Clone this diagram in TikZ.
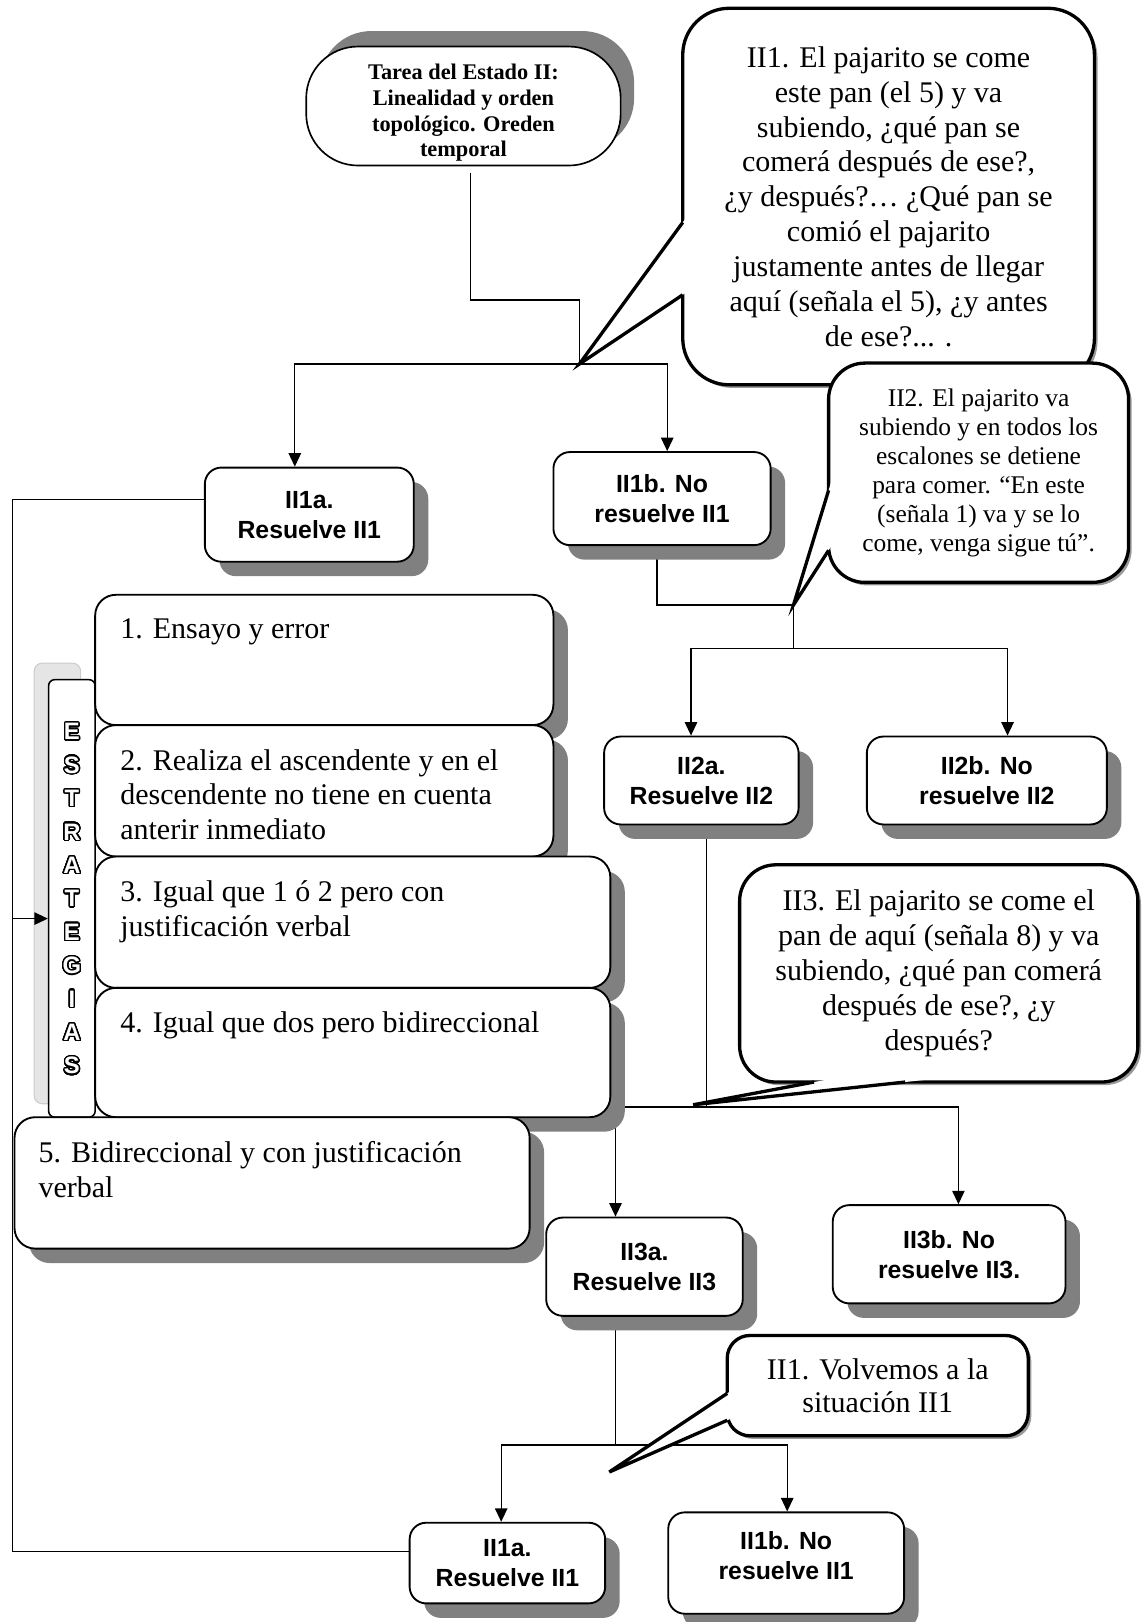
\documentclass[tikz,border=0pt]{standalone}
\usepackage{fontspec}
\setmainfont{Liberation Serif}
\setsansfont{Liberation Sans}
\usepackage{xcolor}
\usepackage{contour}
\contourlength{1.3pt}
\contournumber{32}
\usepackage{tikz}
\usetikzlibrary{positioning,calc,shadows,arrows.meta}
\pgfdeclarelayer{bg}
\pgfsetlayers{bg,main}
\newcommand{\olet}[1]{\contour{black}{\textcolor{white}{#1}}}

\begin{document}
\begin{tikzpicture}[x=1pt, y=-1pt, >={Triangle[length=13pt,width=12pt]},
  link/.style={line width=1.3pt},
  tail/.style={line width=3.2pt, line join=miter},
  res/.style={draw, line width=1.8pt, fill=white, rounded corners=16pt, align=center, inner sep=0pt,
    font=\sffamily\bfseries\fontsize{24}{29}\selectfont,
    drop shadow={shadow xshift=14pt, shadow yshift=-14pt, fill=black!50, opacity=1}},
  est/.style={draw, line width=1.8pt, fill=white, rounded corners=20pt,
    drop shadow={shadow xshift=14pt, shadow yshift=-14pt, fill=black!50, opacity=1}},
  etxt/.style={inner sep=0pt, align=left, font=\fontsize{29}{33.6}\selectfont},
  bubble/.style={draw, line width=3.2pt, fill=white, align=center, inner sep=0pt,
    drop shadow={shadow xshift=3pt, shadow yshift=-3pt, fill=black!40, opacity=1}},
  titlebox/.style={draw, line width=1.6pt, fill=white, rounded corners=50pt,
    drop shadow={shadow xshift=13pt, shadow yshift=15pt, fill=black!50, opacity=1}}]
\useasboundingbox (0,0) rectangle (1104,1568);

\coordinate (k1) at (560,290);
\coordinate (j1) at (560,352);
\coordinate (j2) at (767,585);
\coordinate (k2) at (767,627);
\coordinate (j3) at (683,1070);
\coordinate (p3) at (670,1068);
\coordinate (j4) at (595,1397);
\coordinate (p4) at (589,1423);
\coordinate (ll) at (12,888);

\node[titlebox, minimum width=304pt, minimum height=115pt] (T) at (448,102.5) {};
\node[align=center, inner sep=0pt, font=\bfseries\fontsize{21.6}{25}\selectfont] (Tt) at (448,109) {Tarea del Estado II:\\Linealidad y orden\\topológico. Oreden\\temporal};

\node[bubble, rounded corners=45pt, minimum width=398pt, minimum height=364pt, font=\fontsize{29}{33.7}\selectfont] (q1) at (859,190) {II1. El pajarito se come\\este pan (el 5) y va\\subiendo, ¿qué pan se\\comerá después de ese?,\\¿y después?… ¿Qué pan se\\comió el pajarito\\justamente antes de llegar\\aquí (señala el 5), ¿y antes\\de ese?... .};
\fill[white] ($(j1)!1.08!(660,215)$) -- (j1) -- ($(j1)!1.08!(660,285)$) -- cycle;
\draw[tail] (660,215) -- (j1) -- (660,285);

\node[res, minimum width=202pt, minimum height=91pt] (r1a) at (299,497.5) {II1a.\\Resuelve II1};
\node[res, minimum width=210pt, minimum height=90pt] (r1b) at (640,482) {II1b. No\\resuelve II1};

\node[bubble, rounded corners=35pt, minimum width=290pt, minimum height=212pt, font=\fontsize{24.6}{28}\selectfont] (q2) at (946,457) {II2. El pajarito va\\subiendo y en todos los\\escalones se detiene\\para comer. “En este\\(señala 1) va y se lo\\come, venga sigue tú”.};
\fill[white] ($(j2)!1.1!(801,474)$) -- (j2) -- ($(j2)!1.1!(801,532)$) -- cycle;
\draw[tail] (801,474) -- (j2) -- (801,532);

\node[res, minimum width=188pt, minimum height=85pt] (r2a) at (678,754.5) {II2a.\\Resuelve II2};
\node[res, minimum width=232pt, minimum height=85pt] (r2b) at (954,754.5) {II2b. No\\resuelve II2};

\node[bubble, rounded corners=35pt, minimum width=385pt, minimum height=210pt, font=\fontsize{29}{33.7}\selectfont] (q3) at (907.5,941) {II3. El pajarito se come el\\pan de aquí (señala 8) y va\\subiendo, ¿qué pan comerá\\después de ese?, ¿y\\después?};
\fill[white] ($(p3)!1.25!(787,1046)$) -- (p3) -- ($(p3)!1.25!(875,1046)$) -- cycle;
\draw[tail] (787,1046) -- (p3) -- (875,1046);

\node[res, minimum width=190pt, minimum height=95pt] (r3a) at (623,1224.5) {II3a.\\Resuelve II3};
\node[res, minimum width=225pt, minimum height=95pt] (r3b) at (917.5,1212.5) {II3b. No\\resuelve II3.};

\node[bubble, rounded corners=22pt, minimum width=291pt, minimum height=97pt, font=\fontsize{29}{32}\selectfont] (q4) at (848.5,1339.5) {II1. Volvemos a la\\situación II1};
\fill[white] ($(p4)!1.08!(703,1347)$) -- (p4) -- ($(p4)!1.08!(703,1373)$) -- cycle;
\draw[tail] (703,1347) -- (p4) -- (703,1373);

\node[res, minimum width=189pt, minimum height=78pt] (r4a) at (490.5,1511) {II1a.\\Resuelve II1};
\node[res, minimum width=228pt, minimum height=98pt, text depth=14pt] (r4b) at (760,1511) {II1b. No\\resuelve II1};

\node[fill=black!10, draw=black!20, line width=1pt, rounded corners=8pt, minimum width=45pt, minimum height=426pt] (eb) at (55.5,854) {};
\node[draw, fill=white, line width=1.5pt, rounded corners=6pt, minimum width=45pt, minimum height=423pt] (ef) at (69.5,868.5) {};
\node[align=center, inner sep=0pt, font=\sffamily\bfseries\fontsize{23}{32.3}\selectfont] (el) at (69.5,869.5) {\olet{E}\\\olet{S}\\\olet{T}\\\olet{R}\\\olet{A}\\\olet{T}\\\olet{E}\\\olet{G}\\\olet{I}\\\olet{A}\\\olet{S}};
\draw[link,->] (ll) -- (ll -| ef.west);

\node[est, minimum width=443pt, minimum height=126pt] (e1) at (313.5,638) {};
\node[etxt, below right=24pt and 25pt of e1.north west] (et1) {1. Ensayo y error};
\node[est, minimum width=443pt, minimum height=127pt] (e2) at (313.5,764.5) {};
\node[etxt, below right=24pt and 25pt of e2.north west] (et2) {2. Realiza el ascendente y en el\\descendente no tiene en cuenta\\anterir inmediato};
\node[est, minimum width=498pt, minimum height=127pt] (e3) at (341,891.5) {};
\node[etxt, below right=24pt and 25pt of e3.north west] (et3) {3. Igual que 1 ó 2 pero con\\justificación verbal};
\node[est, minimum width=498pt, minimum height=125pt] (e4) at (341,1017.5) {};
\node[etxt, below right=24pt and 25pt of e4.north west] (et4) {4. Igual que dos pero bidireccional};
\node[est, minimum width=498pt, minimum height=127pt] (e5) at (263,1143.5) {};
\node[etxt, below right=24pt and 24pt of e5.north west] (et5) {5. Bidireccional y con justificación\\verbal};

\begin{pgfonlayer}{bg}
\draw[link] ([xshift=7pt,yshift=-6pt]T.south) |- (k1) -- (j1);
\draw[link,->] (j1) -| ([xshift=-14pt]r1a.north);
\draw[link,->] (j1) -| ([xshift=5pt]r1b.north);
\draw[link] ([xshift=-5pt]r1b.south) |- (j2) -- (k2);
\draw[link,->] (k2) -| ([xshift=-10pt]r2a.north);
\draw[link,->] (k2) -| ([xshift=20pt]r2b.north);
\draw[link] ([xshift=5pt]r2a.south) |- (j3);
\draw[link,->] (j3) -| ([xshift=-28pt]r3a.north);
\draw[link,->] (j3) -| ([xshift=9pt]r3b.north);
\draw[link] ([xshift=-28pt]r3a.south) |- (j4);
\draw[link,->] (j4) -| ([xshift=-6pt]r4a.north);
\draw[link,->] (j4) -| ([xshift=1pt]r4b.north);
\draw[link] ([yshift=14.5pt]r1a.west) -| (ll) |- ([yshift=11pt]r4a.west);
\end{pgfonlayer}
\end{tikzpicture}
\end{document}
